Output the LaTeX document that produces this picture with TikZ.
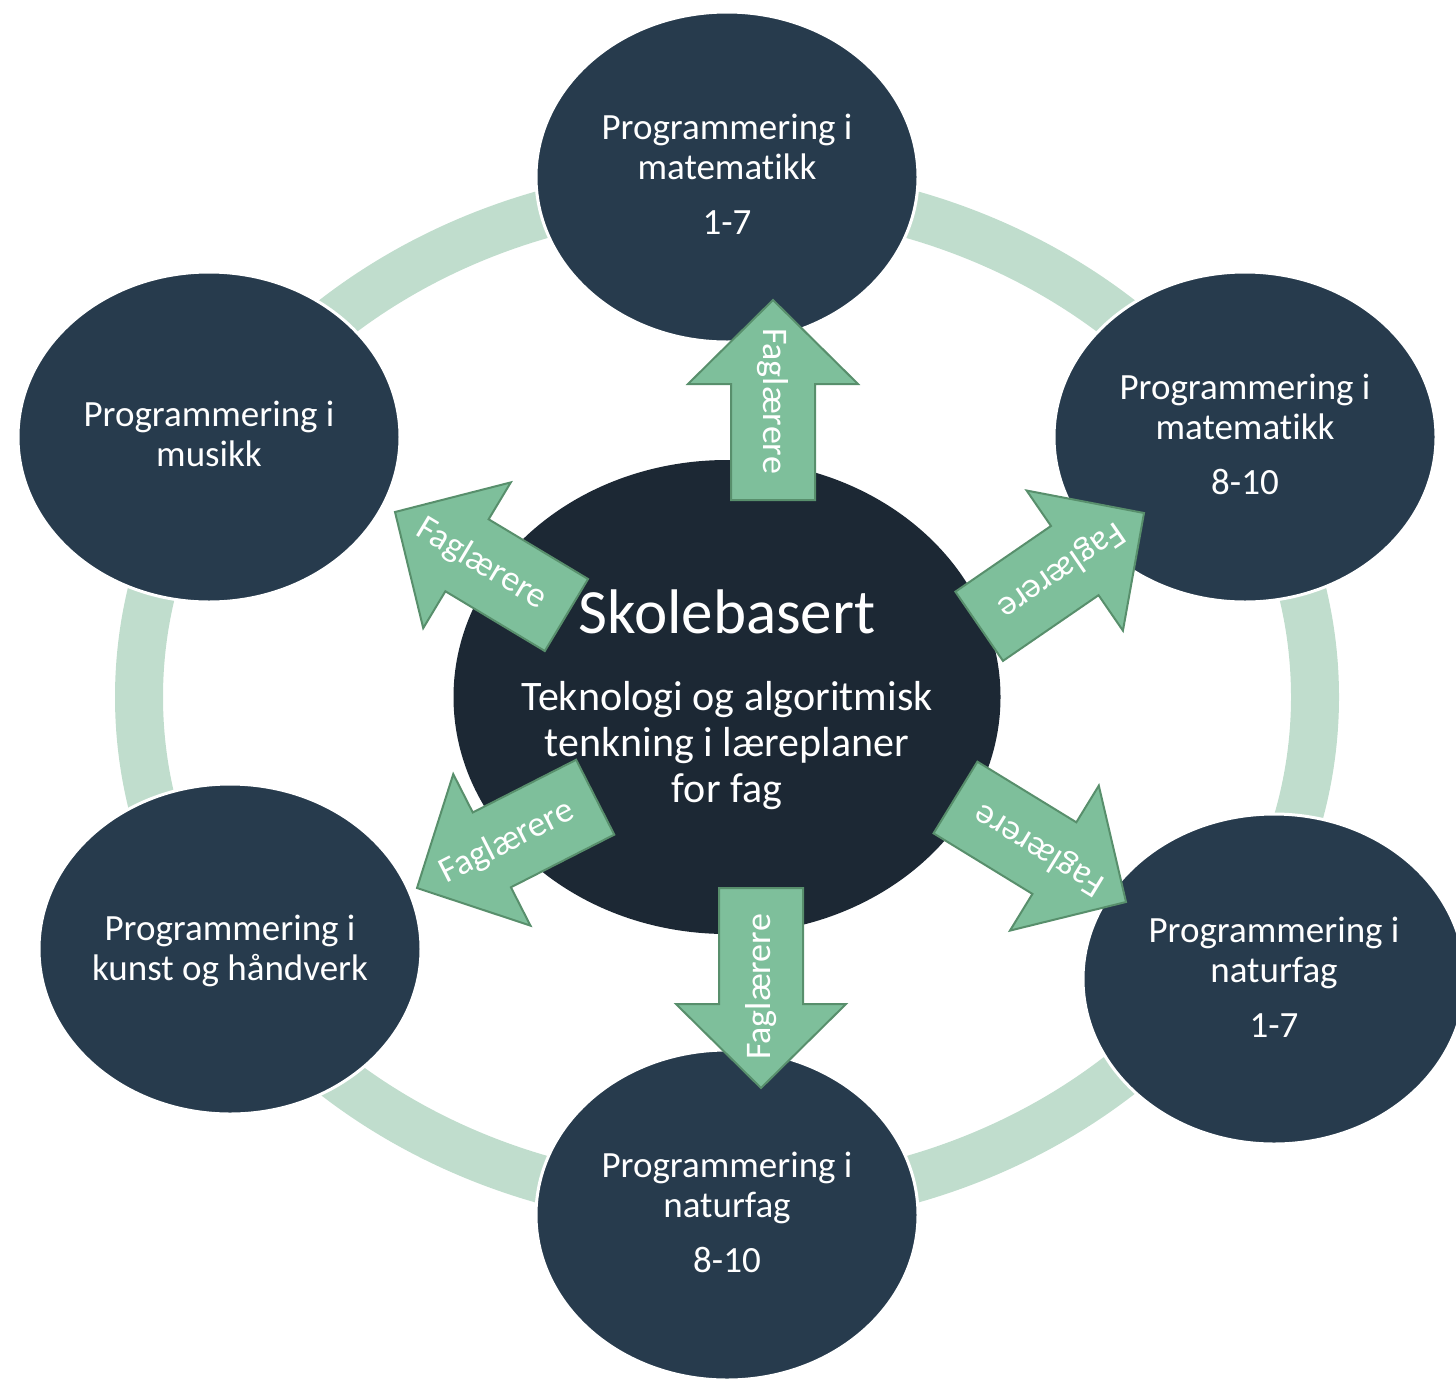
\documentclass[tikz,border=0pt]{standalone}
\usepackage{fontspec}
\setmainfont{Carlito}[Ligatures=NoCommon]
\usetikzlibrary{shapes.geometric}
\definecolor{ringgreen}{RGB}{192,221,205}
\definecolor{outerblue}{RGB}{39,59,77}
\definecolor{centerblue}{RGB}{28,40,52}
\definecolor{arrowfill}{RGB}{126,191,155}
\definecolor{arrowline}{RGB}{88,143,108}
\newcommand{\fagarrow}[4]{%
  \begin{scope}[shift={(#1,#2)},rotate=#3]
    \path[arrowbody] (0,0) -- (-84,85) -- (-84,42) -- (-200,42) -- (-200,-42) -- (-84,-42) -- (-84,-85) -- cycle;
    \node[arrowtext] (#4) at (-101,0) {Faglærere};
  \end{scope}}
\begin{document}
\begin{tikzpicture}[x=1pt,y=-1pt,
  outer/.style={ellipse, fill=outerblue, draw=white, line width=3pt, minimum width=382pt, minimum height=330pt, inner sep=0pt},
  outertext/.style={text=white, align=center, font=\fontsize{37}{40}\selectfont, inner sep=0pt},
  arrowbody/.style={fill=arrowfill, draw=arrowline, line width=2pt, line join=miter},
  arrowtext/.style={text=white, font=\fontsize{36}{40}\selectfont, inner sep=0pt, transform shape, rotate=180},
]
\useasboundingbox (0,0) rectangle (1456,1379);
\node[ellipse, draw=ringgreen, line width=48pt, minimum width=1176pt, minimum height=1016pt, inner sep=0pt] (ring) at (727,697) {};
% outer ellipses
\node[outer] (m17) at (727,177) {};
\node[outer] (m810) at (1245,437) {};
\node[outer] (n17) at (1274,979) {};
\node[outer] (n810) at (727,1215) {};
\node[outer] (kh) at (230,949) {};
\node[outer] (mu) at (209,437) {};
% centre
\node[ellipse, fill=centerblue, minimum width=547pt, minimum height=474pt, inner sep=0pt] (sk) at (727,697) {};
% texts
\node[outertext] (m17t) at (727,174) {Programmering i\\ matematikk\\[15pt] 1-7};
\node[outertext] (m810t) at (1245,434) {Programmering i\\ matematikk\\[15pt] 8-10};
\node[outertext] (n17t) at (1274,977) {Programmering i\\ naturfag\\[15pt] 1-7};
\node[outertext] (n810t) at (727,1212) {Programmering i\\ naturfag\\[15pt] 8-10};
\node[outertext] (kht) at (230,951) {Programmering i\\ kunst og håndverk};
\node[outertext] (mut) at (209,434) {Programmering i\\ musikk};
\node[text=white, align=center, font=\fontsize{42}{46}\selectfont, inner sep=0pt] (skt) at (727,700)
  {{\fontsize{63}{70}\selectfont Skolebasert}\\[31pt] Teknologi og algoritmisk\\ tenkning i læreplaner\\ for fag};
% arrows
\fagarrow{773}{300}{90}{a1}
\fagarrow{1144}{513}{34.5}{a2}
\fagarrow{1126}{902}{-31.5}{a3}
\fagarrow{761}{1088}{-90}{a4}
\fagarrow{417}{888}{207}{a5}
\fagarrow{395}{512}{149}{a6}
\end{tikzpicture}
\end{document}
